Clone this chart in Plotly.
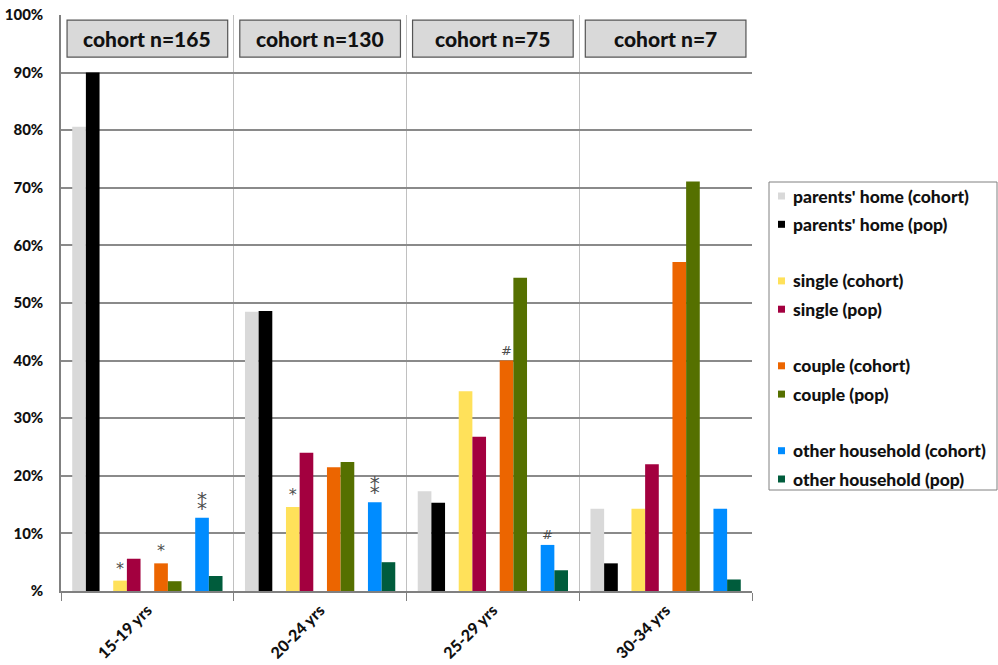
import plotly.graph_objects as go

# Age bands and cohort sizes
age_groups = ["15-19 yrs", "20-24 yrs", "25-29 yrs", "30-34 yrs"]
cohort_labels = ["cohort n=165", "cohort n=130", "cohort n=75", "cohort n=7"]

# Share of each living arrangement (%), cohort vs. general population
parents_cohort = [80.6, 48.5, 17.3, 14.3]
parents_pop = [90.0, 48.6, 15.3, 4.8]
single_cohort = [1.8, 14.6, 34.7, 14.3]
single_pop = [5.6, 24.0, 26.8, 22.0]
couple_cohort = [4.8, 21.5, 40.0, 57.1]
couple_pop = [1.7, 22.4, 54.4, 71.1]
other_cohort = [12.7, 15.4, 8.0, 14.3]
other_pop = [2.6, 5.0, 3.6, 2.0]

# Significance markers shown above cohort bars
single_marks = ["*", "*", "", ""]
couple_marks = ["*", "", "#", ""]
other_marks = ["\u2051", "\u2051", "#", ""]

y_tick_values = [0, 10, 20, 30, 40, 50, 60, 70, 80, 90, 100]
y_tick_labels = ["%", "10%", "20%", "30%", "40%", "50%", "60%", "70%", "80%", "90%", "100%"]

FONT = "Lato"
TEXT = "#111111"
HEAVY = 900
series = [
    ("parents' home (cohort)", parents_cohort, "#d9d9d9", None),
    ("parents' home (pop)", parents_pop, "#000000", None),
    (None, None, None, None),
    ("single (cohort)", single_cohort, "#ffe15a", single_marks),
    ("single (pop)", single_pop, "#a3003f", None),
    (None, None, None, None),
    ("couple (cohort)", couple_cohort, "#ec6500", couple_marks),
    ("couple (pop)", couple_pop, "#557000", None),
    (None, None, None, None),
    ("other household (cohort)", other_cohort, "#008cff", other_marks),
    ("other household (pop)", other_pop, "#005c3c", None),
]

# plot area in pixels (figure is 998 x 665)
PL, PR, PT, PB = 61, 752, 15, 591


def px(x):
    return (x - PL) / (PR - PL)


def py(y):
    return (PB - y) / (PB - PT)


def mark_style(marks):
    sizes = [20 if m == "\u2051" else (16 if m == "*" else 13) for m in marks]
    return dict(color="#4d4d4d", size=sizes, family="DejaVu Sans")


fig = go.Figure()
for i, (name, vals, color, marks) in enumerate(series):
    if name is None:
        # empty spacer series keeps the gap between the pairs of bars
        fig.add_trace(go.Bar(x=age_groups, y=[None] * len(age_groups),
                             marker=dict(color="rgba(0,0,0,0)"), hoverinfo="skip"))
        continue
    kw = {}
    if marks is not None:
        kw = dict(text=marks, textposition="outside", constraintext="none",
                  textfont=mark_style(marks), cliponaxis=False)
    fig.add_trace(go.Bar(
        x=age_groups, y=vals, name=name,
        marker=dict(color=color, line=dict(width=0)), **kw,
    ))

shapes = []
annotations = []

# Cohort size boxes at the top of each age band
for k, label in enumerate(cohort_labels):
    shapes.append(dict(type="rect", xref="x", yref="y",
                       x0=k - 0.465, x1=k + 0.465, y0=92.7, y1=99.1,
                       fillcolor="#d9d9d9", line=dict(color="#555555", width=1.2),
                       layer="above"))
    annotations.append(dict(x=k, y=95.9, xref="x", yref="y", text=label,
                            showarrow=False,
                            font=dict(family=FONT, size=21, color=TEXT, weight=HEAVY)))

# Legend box, one row per series (spacer rows left empty)
shapes.append(dict(type="rect", xref="paper", yref="paper",
                   x0=px(769), x1=px(997), y0=py(490), y1=py(182),
                   line=dict(color="#808080", width=1), fillcolor="white"))
ROW0, ROWH = 196, 28.3
for i, (name, vals, color, marks) in enumerate(series):
    if name is None:
        continue
    yc = ROW0 + ROWH * i
    shapes.append(dict(type="rect", xref="paper", yref="paper",
                       x0=px(778), x1=px(785), y0=py(yc + 3.5), y1=py(yc - 3.5),
                       fillcolor=color, line=dict(width=0)))
    annotations.append(dict(x=px(791), y=py(yc), xref="paper", yref="paper",
                            xanchor="left", yanchor="middle", showarrow=False,
                            text=name,
                            font=dict(family=FONT, size=17.5, color=TEXT, weight=HEAVY)))

fig.update_layout(
    width=998, height=665,
    margin=dict(l=PL, r=998 - PR, t=PT, b=665 - PB),
    paper_bgcolor="white", plot_bgcolor="white",
    barmode="group", bargap=0.13, bargroupgap=0,
    font=dict(family=FONT, color=TEXT),
    shapes=shapes, annotations=annotations,
    showlegend=False,
)
fig.update_xaxes(
    type="category", tickson="boundaries", showgrid=True, gridcolor="#c0c0c0", gridwidth=1,
    ticks="outside", ticklen=8, tickcolor="#808080",
    showline=True, linecolor="#808080", linewidth=1.5,
    tickangle=-45, tickfont=dict(family=FONT, size=16, color=TEXT, weight=HEAVY),
    ticklabelstandoff=2, automargin=False,
)
fig.update_yaxes(
    range=[0, 100], tickvals=y_tick_values, ticktext=y_tick_labels,
    showgrid=True, gridcolor="#8a8a8a", gridwidth=1.5,
    showline=True, linecolor="#808080", linewidth=1.5,
    ticks="", tickfont=dict(family=FONT, size=15, color=TEXT, weight=HEAVY),
    ticklabelstandoff=13, zeroline=False, automargin=False,
)

fig.write_html("out.html")
